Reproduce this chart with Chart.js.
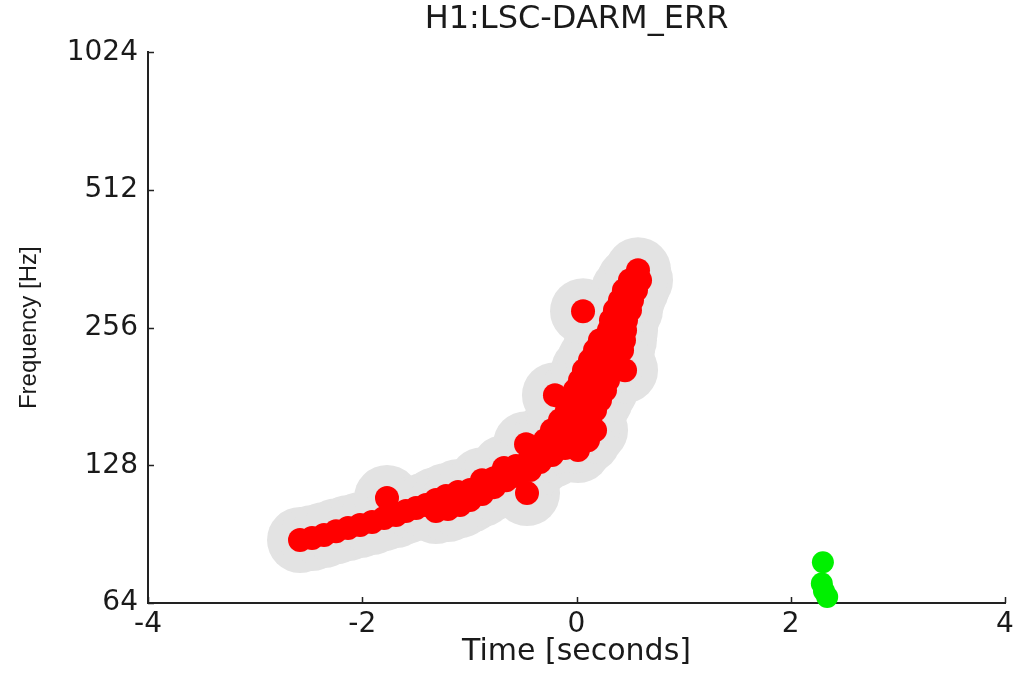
<!DOCTYPE html>
<html>
<head>
<meta charset="utf-8">
<title>H1:LSC-DARM_ERR</title>
<script src="https://cdn.jsdelivr.net/npm/chart.js@4.4.1/dist/chart.umd.min.js"></script>
<style>
  html, body { margin: 0; padding: 0; background: #fff; }
  #wrap { width: 1016px; height: 673px; position: relative; }
</style>
</head>
<body>
<div id="wrap"><canvas id="chart"></canvas></div>
<script>
// tick labels
const timeTicks = [-4, -2, 0, 2, 4];
const freqTicks = [64, 128, 256, 512, 1024];

// clustered triggers (red, drawn over a grey halo)
const redTime = [
  -2.581, -2.469, -2.357, -2.245, -2.133, -2.021, -1.909, -1.797, -1.769, -1.685,
  -1.592, -1.498, -1.405, -1.312, -1.312, -1.218, -1.200, -1.106, -1.088, -0.994,
  -0.994, -0.882, -0.882, -0.770, -0.770, -0.677, -0.658, -0.565, -0.546, -0.471,
  -0.462, -0.434, -0.434, -0.341, -0.341, -0.229, -0.229, -0.154, -0.107, -0.191,
  0.014, -0.294, -0.154, -0.014, 0.107, -0.229, -0.089, 0.051, 0.173, -0.154,
  -0.014, 0.126, -0.089, 0.033, 0.173, -0.061, 0.079, 0.219, -0.201, -0.014,
  0.126, 0.266, 0.033, 0.163, 0.294, 0.070, 0.201, 0.331, 0.453, 0.126,
  0.247, 0.369, 0.173, 0.294, 0.425, 0.219, 0.331, 0.443, 0.303, 0.453,
  0.322, 0.462, 0.061, 0.359, 0.499, 0.406, 0.518, 0.443, 0.555, 0.499,
  0.593, 0.574
];
const redFreq = [
  87.9, 88.8, 90.1, 91.9, 93.4, 94.8, 96.2, 98.2, 108.6, 99.7,
  101.7, 103.2, 104.8, 107.5, 101.7, 109.7, 102.7, 111.9, 104.8, 113.0,
  107.5, 118.8, 110.8, 120.0, 114.7, 126.3, 118.8, 127.6, 121.3, 142.4,
  111.3, 132.7, 125.0, 136.8, 130.1, 145.3, 134.8, 152.8, 139.6, 138.2,
  138.2, 145.3, 145.3, 145.3, 145.3, 152.8, 152.8, 152.8, 152.8, 160.7,
  160.7, 160.7, 169.0, 169.0, 169.0, 177.7, 177.7, 177.7, 182.3, 186.9,
  186.9, 186.9, 196.6, 196.6, 196.6, 206.7, 206.7, 206.7, 206.7, 217.4,
  217.4, 217.4, 228.6, 228.6, 228.6, 240.4, 240.4, 240.4, 252.8, 252.8,
  265.9, 265.9, 278.2, 279.6, 279.6, 294.0, 294.0, 309.2, 309.2, 325.1,
  325.1, 341.9
];

// unclustered triggers (green)
const greenTime = [2.30, 2.29, 2.31, 2.34];
const greenFreq = [78.6, 70.6, 68.0, 66.0];

const AXIS_COLOR = '#222';
const TEXT_COLOR = '#1a1a1a';

function toPoints(xs, ys) {
  return xs.map((x, i) => ({ x: x, y: ys[i] }));
}

// tick marks drawn inside the axes, like the original figure
const innerTicks = {
  id: 'innerTicks',
  afterDraw(chart) {
    const { ctx, chartArea, scales } = chart;
    ctx.save();
    ctx.strokeStyle = AXIS_COLOR;
    ctx.lineWidth = 1.5;
    ctx.beginPath();
    timeTicks.forEach(v => {
      const x = Math.round(scales.x.getPixelForValue(v)) + 0.5;
      ctx.moveTo(x, chartArea.bottom);
      ctx.lineTo(x, chartArea.bottom - 6);
    });
    freqTicks.forEach(v => {
      const y = Math.round(scales.y.getPixelForValue(v)) + 0.5;
      ctx.moveTo(chartArea.left, y);
      ctx.lineTo(chartArea.left + 6, y);
    });
    ctx.stroke();
    ctx.restore();
  }
};

Chart.defaults.font.family = "'DejaVu Sans', 'Liberation Sans', sans-serif";
Chart.defaults.color = TEXT_COLOR;

new Chart(document.getElementById('chart'), {
  type: 'scatter',
  data: {
    datasets: [
      {
        label: 'clustered',
        data: toPoints(redTime, redFreq),
        backgroundColor: '#ff0000',
        borderWidth: 0,
        pointRadius: 12,
        order: 1
      },
      {
        label: 'unclustered',
        data: toPoints(greenTime, greenFreq),
        backgroundColor: '#00f000',
        borderWidth: 0,
        pointRadius: 11,
        clip: false,
        order: 1
      },
      {
        label: 'halo',
        data: toPoints(redTime, redFreq),
        backgroundColor: '#e3e3e3',
        borderWidth: 0,
        pointRadius: 33,
        order: 2
      }
    ]
  },
  options: {
    responsive: true,
    maintainAspectRatio: false,
    animation: false,
    events: [],
    layout: { autoPadding: false, padding: { left: 0, right: 11, top: 0, bottom: 0 } },
    plugins: {
      legend: { display: false },
      tooltip: { enabled: false },
      title: {
        display: true,
        fullSize: false,
        text: 'H1:LSC-DARM_ERR',
        color: TEXT_COLOR,
        font: { size: 32, weight: 'normal' },
        padding: { top: 0, bottom: 14 }
      }
    },
    scales: {
      x: {
        type: 'linear',
        min: -4,
        max: 4,
        afterBuildTicks: (scale) => { scale.ticks = timeTicks.map(v => ({ value: v })); },
        afterFit: (scale) => { scale.height = 70; },
        grid: { display: false, drawTicks: false },
        border: { display: true, color: AXIS_COLOR, width: 2 },
        ticks: { padding: 2, font: { size: 28, lineHeight: 1.4 }, color: TEXT_COLOR, maxRotation: 0 },
        title: {
          display: true,
          text: 'Time [seconds]',
          color: TEXT_COLOR,
          font: { size: 30 },
          padding: { top: 0, bottom: 3 }
        }
      },
      y: {
        type: 'logarithmic',
        min: 64,
        max: 1024,
        afterBuildTicks: (scale) => { scale.ticks = freqTicks.map(v => ({ value: v })); },
        afterFit: (scale) => { scale.width = 148; },
        grid: { display: false, drawTicks: false },
        border: { display: true, color: AXIS_COLOR, width: 2 },
        ticks: {
          padding: 10,
          font: { size: 28 },
          color: TEXT_COLOR,
          callback: (v) => String(v)
        },
        title: {
          display: true,
          text: 'Frequency [Hz]',
          color: TEXT_COLOR,
          font: { family: "'Liberation Sans', Arial, sans-serif", size: 24 },
          padding: { top: 15, bottom: 0 }
        }
      }
    }
  },
  plugins: [innerTicks]
});
</script>
</body>
</html>
